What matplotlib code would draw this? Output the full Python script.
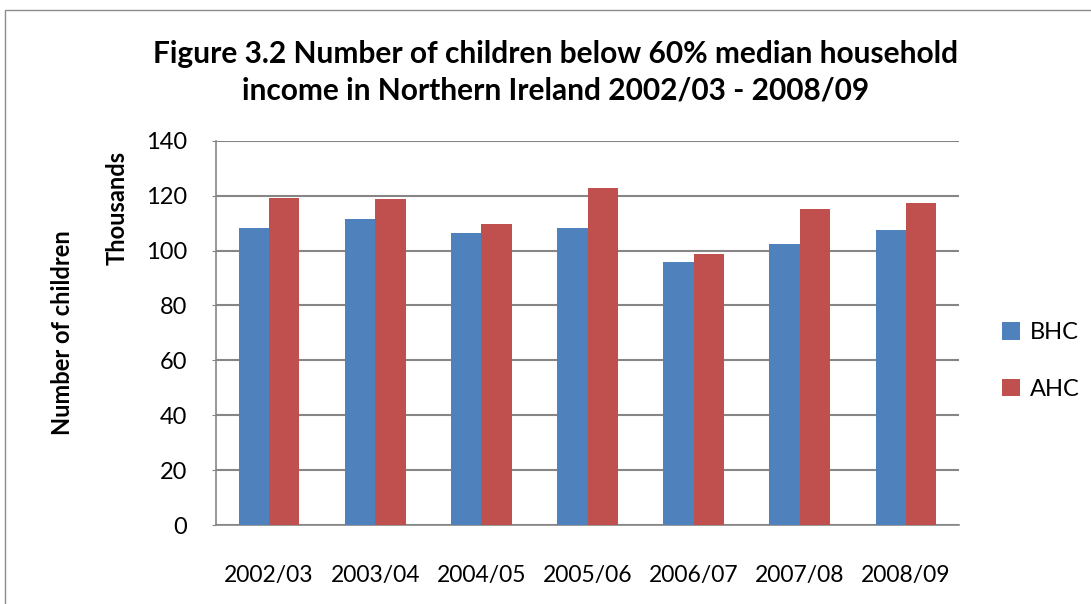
import matplotlib.pyplot as plt
import numpy as np
from matplotlib.patches import Rectangle

years = ['2002/03', '2003/04', '2004/05', '2005/06', '2006/07', '2007/08', '2008/09']
bhc = [108.2, 111.5, 106.5, 108.3, 95.8, 102.4, 107.3]
ahc = [119.1, 118.8, 109.6, 122.6, 98.7, 115.1, 117.3]

plt.rcParams['font.family'] = ['Lato', 'DejaVu Sans']

W, H = 1091, 604
fig = plt.figure(figsize=(W / 100, H / 100), dpi=100)

# chart frame
fig.patches.append(Rectangle((5 / W, -0.05), 1.2, (H - 10) / H + 0.05, transform=fig.transFigure,
                             fill=False, edgecolor='#8c8c8c', linewidth=1))

left, right, top, bottom = 216, 959, 140.7, 525
ax = fig.add_axes([left / W, 1 - bottom / H, (right - left) / W, (bottom - top) / H])

x = np.arange(len(years))
w = 1 / 3.5
ax.bar(x - w / 2, bhc, w, color='#4F81BD', label='BHC', zorder=3)
ax.bar(x + w / 2, ahc, w, color='#C0504D', label='AHC', zorder=3)

ax.set_xlim(-0.5, len(years) - 0.5)
ax.set_ylim(0, 140)
ax.set_yticks(range(0, 141, 20))
ax.set_xticks(x)
ax.set_xticklabels(years, fontsize=16.5)
ax.tick_params(axis='y', labelsize=17, length=3, color='#868686', pad=18)
ax.tick_params(axis='x', length=0, pad=29)
ax.yaxis.grid(True, color='#868686', linewidth=1.5, zorder=0)
for s in ['top', 'right']:
    ax.spines[s].set_visible(False)
for s in ['left', 'bottom']:
    ax.spines[s].set_color('#868686')
    ax.spines[s].set_linewidth(1.2)

fig.text(556 / W, 1 - 72 / H, 'Figure 3.2 Number of children below 60% median household\nincome in Northern Ireland 2002/03 - 2008/09',
         ha='center', va='center', fontsize=21.5, fontweight='bold', linespacing=1.35)
fig.text(117 / W, 1 - 208 / H, 'Thousands', rotation=90, ha='center', va='center',
         fontsize=17, fontweight='bold')
fig.text(62 / W, 1 - 333 / H, 'Number of children', rotation=90, ha='center', va='center',
         fontsize=17, fontweight='bold')

fig.legend(loc='center left', bbox_to_anchor=(1002 / W, 1 - 361 / H), frameon=False, borderpad=0,
           borderaxespad=0, fontsize=17, handlelength=0.75, handleheight=0.75,
           labelspacing=1.5, handletextpad=0.45)

fig.savefig('out.png', dpi=100)
